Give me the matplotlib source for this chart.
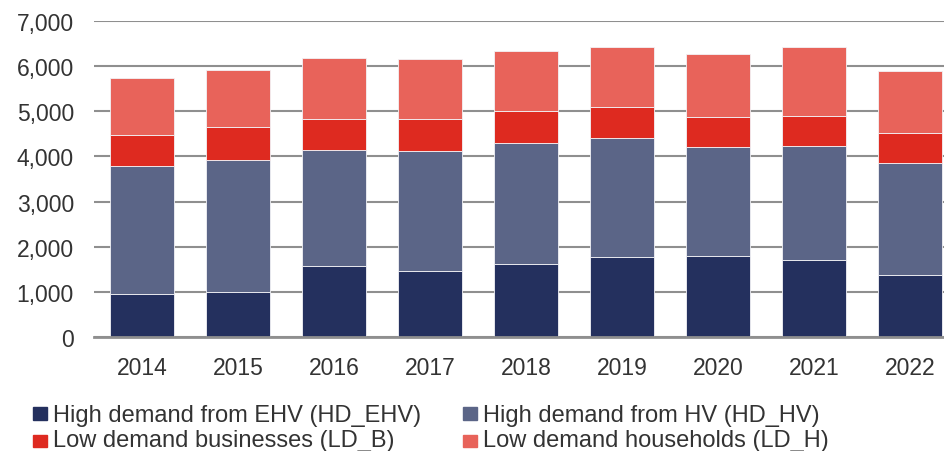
import matplotlib
matplotlib.use('Agg')
import numpy as np
import matplotlib.pyplot as plt
from matplotlib.patches import Rectangle

plt.rcParams['font.family'] = ['Liberation Sans', 'DejaVu Sans']

years = ['2014', '2015', '2016', '2017', '2018', '2019', '2020', '2021', '2022']
hd_ehv = [940, 990, 1560, 1465, 1605, 1760, 1785, 1700, 1360]
hd_hv = [2840, 2940, 2590, 2650, 2695, 2645, 2420, 2535, 2490]
ld_b = [705, 720, 690, 710, 700, 700, 660, 655, 665]
ld_h = [1250, 1265, 1335, 1340, 1335, 1335, 1410, 1530, 1375]

series = [
	('High demand from EHV (HD_EHV)', hd_ehv, '#24305e'),
	('High demand from HV (HD_HV)', hd_hv, '#5b6587'),
	('Low demand businesses (LD_B)', ld_b, '#de2a20'),
	('Low demand households (LD_H)', ld_h, '#e8635a'),
]

text_col = '#333333'
grid_col = '#8f8f8f'

fig = plt.figure(figsize=(9.44, 4.52), dpi=100)
ax = fig.add_axes([94/944, 1-337.7/452, 1-94/944, (337.7-22.3)/452])

x = np.arange(len(years))
bottom = np.zeros(len(years))
for name, vals, col in series:
	ax.bar(x, vals, width=0.667, bottom=bottom, color=col,
		   edgecolor='#f2f2f6', linewidth=0.6, zorder=3)
	bottom += np.array(vals)

ax.set_ylim(0, 7000)
ax.set_xlim(-0.5, 8.354)
ax.set_yticks(np.arange(0, 7001, 1000))
ax.set_yticklabels(['{:,}'.format(v) for v in range(0, 7001, 1000)])
ax.set_xticks(x)
ax.set_xticklabels(years)
ax.yaxis.grid(True, color=grid_col, linewidth=1.5, zorder=0)
ax.tick_params(axis='both', length=0, labelsize=16.5, colors=text_col)
ax.tick_params(axis='y', pad=14.5)
ax.tick_params(axis='x', pad=14)
for s in ['top', 'right', 'left']:
	ax.spines[s].set_visible(False)
ax.spines['bottom'].set_color(grid_col)
ax.spines['bottom'].set_linewidth(2)
ax.spines['bottom'].set_zorder(4)

# legend drawn by hand: two columns, two rows
W, H = 944.0, 452.0
cols_x = [33, 463]
rows = [(408.3, 421.7), (435.5, 447.3)]
order = [(0, 0, 0), (1, 1, 0), (2, 0, 1), (3, 1, 1)]
for idx, c, r in order:
	name, vals, col = series[idx]
	sq_top, base = rows[r]
	fig.add_artist(Rectangle((cols_x[c]/W, 1-(sq_top+12.5)/H), 13.5/W, 12.5/H,
							 transform=fig.transFigure, color=col))
	fig.text((cols_x[c]+20)/W, 1-base/H, name, fontsize=17, color=text_col,
			 va='baseline', ha='left')

plt.savefig('out.png', dpi=100)
